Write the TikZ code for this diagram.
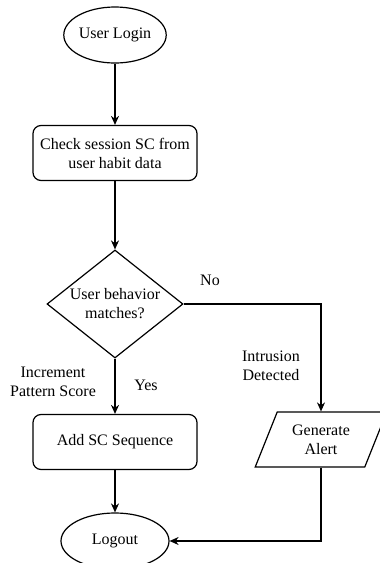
\documentclass[tikz,border=0pt]{standalone}
\usepackage{fontspec}
\setmainfont{Liberation Serif}
\newfontfamily\flowfont{Liberation Serif}
\usetikzlibrary{shapes.geometric,arrows.meta}

\begin{document}
\begin{tikzpicture}[x=1pt, y=-1pt,
    every node/.style={font=\flowfont\fontsize{16}{19}\selectfont},
    terminal/.style={ellipse, draw, line width=1.2pt, minimum width=102pt, minimum height=56pt, inner sep=0pt},
    process/.style={rectangle, rounded corners=8pt, draw, line width=1.2pt, minimum width=164pt, minimum height=55pt, align=center, inner sep=0pt},
    decision/.style={diamond, draw, line width=1.2pt, aspect=1.26, minimum width=136pt, minimum height=108pt, inner sep=0pt, align=center},
    io/.style={trapezium, trapezium left angle=64, trapezium right angle=116, trapezium stretches=true, draw, line width=1.2pt, minimum width=132pt, minimum height=55pt, align=center, inner sep=0pt},
    arrow/.style={-{Stealth[length=9pt, width=8pt]}, line width=1.2pt},
    note/.style={align=center}
]
    \useasboundingbox (0,0) rectangle (380,563);

    \node[terminal] (login) at (115,35) {User Login};
    \node[process] (check) at (115,153) {Check session SC from\\user habit data};
    \node[decision] (match) at (115,304) {User behavior\\matches?};
    \node[process] (add) at (115,442) {Add SC Sequence};
    \node[io] (alert) at (321,439.5) {Generate\\Alert};
    \node[terminal, minimum width=108pt] (logout) at (115,541) {Logout};

    \node[note] (no) at (210,280) {No};
    \node[note] (yes) at (146,385) {Yes};
    \node[note] (intrusion) at (271,366) {Intrusion\\Detected};
    \node[note] (increment) at (53,382) {Increment\\Pattern Score};

    \draw[arrow] (login) -- (check);
    \draw[arrow] (check) -- (match);
    \draw[arrow] (match) -- (add);
    \draw[arrow] (match.east) -| (alert.north);
    \draw[arrow] (add) -- (logout);
    \draw[arrow] (alert.south) |- (logout.east);
\end{tikzpicture}
\end{document}
